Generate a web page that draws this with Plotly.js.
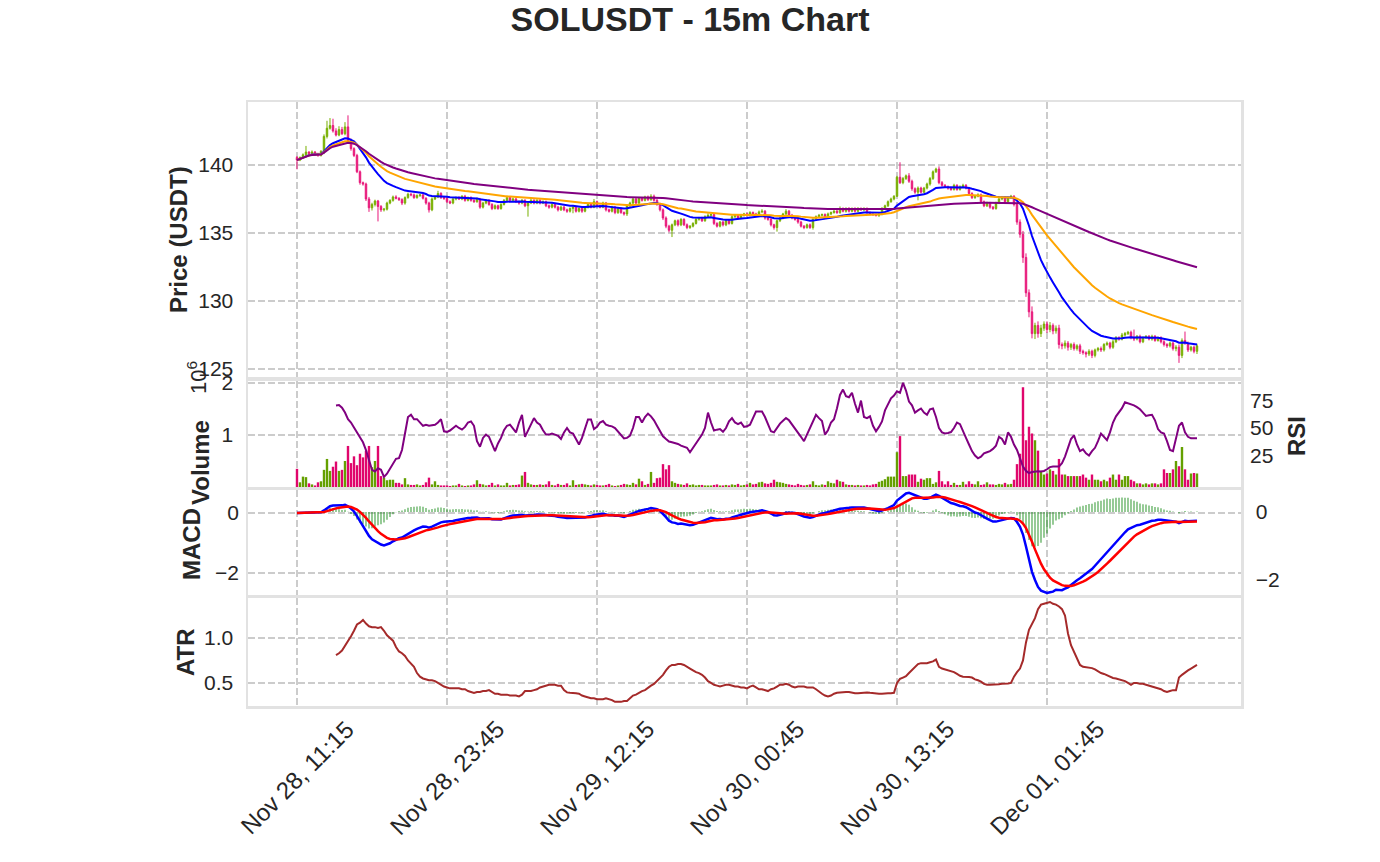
<!DOCTYPE html>
<html>
<head>
<meta charset="utf-8">
<script src="https://cdn.plot.ly/plotly-3.0.1.min.js"></script>
<style>html,body{margin:0;padding:0;background:#fff;}#chart{width:1380px;height:862px;}</style>
</head>
<body>
<div id="chart"></div>
<script>
// ---------- DATA ----------
const START_UTC = Date.UTC(2025, 10, 28, 11, 15);   // Nov 28, 11:15
const STEP_MS = 15 * 60 * 1000;                      // 15m candles
const FIRST_OPEN = 140.55;

const closes = [
140.36,140.55,140.75,140.95,140.85,140.95,140.80,140.70,141.00,142.10,
142.70,142.90,142.50,142.20,142.60,142.30,142.80,141.80,141.20,140.70,
139.50,138.70,138.60,137.50,136.85,137.10,137.35,136.95,136.70,136.75,
137.20,137.40,137.65,137.55,137.45,137.20,137.60,137.85,137.80,137.60,
137.75,137.80,137.55,137.20,136.70,137.50,137.65,137.90,137.60,137.55,
137.30,137.20,137.50,137.60,137.50,137.70,137.40,137.60,137.40,137.30,
137.50,136.90,137.20,137.40,137.10,136.80,137.00,136.80,137.10,137.40,
137.60,137.40,137.50,137.30,137.20,137.40,137.00,137.20,137.40,137.20,
137.40,137.20,137.30,137.00,136.90,137.10,136.90,136.70,136.90,136.70,
136.60,136.80,136.90,136.60,136.80,136.60,136.90,137.10,136.90,137.30,
137.00,136.90,137.20,136.70,136.60,136.90,136.50,136.80,136.50,136.40,
137.00,137.20,137.50,137.20,137.55,137.40,137.65,137.45,137.70,137.40,
137.10,136.70,136.10,135.50,135.20,135.60,135.90,135.60,136.00,135.60,
135.40,135.50,135.70,136.00,136.10,135.90,136.20,136.30,136.35,135.70,
135.50,135.80,135.60,135.90,135.70,136.20,136.30,136.10,136.30,136.40,
136.30,136.50,136.40,136.30,136.55,136.60,136.10,136.00,135.60,135.40,
135.90,136.10,136.40,136.60,136.30,136.10,136.00,135.80,135.50,135.40,
135.60,135.40,136.00,136.20,136.30,136.35,136.20,136.40,136.50,136.60,
136.50,136.80,136.60,136.80,136.60,136.80,136.60,136.80,136.70,136.80,
136.50,136.40,136.35,136.30,136.40,136.80,137.00,137.30,137.50,137.70,
139.10,138.70,139.00,139.20,138.80,138.25,138.00,138.30,138.00,138.30,
138.60,139.00,139.50,139.70,138.70,138.50,138.40,138.30,138.20,138.50,
138.20,138.40,138.50,138.30,137.90,137.60,137.70,137.80,137.30,137.00,
137.20,136.90,136.80,137.20,137.50,137.60,137.30,137.60,137.70,137.10,
135.80,134.90,133.20,130.60,129.20,127.60,128.20,127.60,128.00,128.30,
127.90,128.20,127.80,128.00,126.80,126.70,126.90,126.60,126.80,126.50,
126.70,126.30,126.20,126.10,126.30,126.00,126.40,126.50,126.40,126.80,
126.90,126.60,127.00,127.30,127.20,127.50,127.60,127.70,127.30,127.20,
127.40,127.00,127.30,127.40,127.20,127.40,127.10,127.30,127.00,126.80,
126.70,126.90,126.50,126.60,126.00,127.10,126.90,126.40,126.60,126.30,
126.70
];

// upper / lower wick lengths in hundredths of a USDT
const upperWick = [
11,8,10,45,6,12,8,10,9,15, 55,55,50,20,25,20,35,85,15,10,
12,10,8,10,15,12,10,8,10,9, 10,8,10,12,8,10,9,12,8,10,
9,8,10,8,10,12,8,20,10,8, 8,10,9,8,10,8,10,8,9,8,
10,8,9,10,8,9,10,8,9,10, 15,8,10,8,9,10,8,9,10,8,
9,8,10,8,9,10,8,9,10,8, 9,8,10,8,9,10,8,9,10,20,
8,9,10,8,9,10,8,9,10,8, 9,10,8,9,10,8,9,10,15,12,
10,12,10,12,10,9,8,10,9,8, 10,8,9,10,8,9,10,15,8,10,
9,8,10,8,9,10,8,9,10,8, 9,10,8,9,10,15,8,9,10,8,
9,10,8,15,9,10,8,9,10,8, 9,10,8,9,10,8,9,10,8,9,
10,15,8,9,10,8,9,10,8,9, 8,9,10,8,9,10,8,9,10,8,
10,110,12,10,20,12,10,12,10,9, 10,12,10,10,20,12,10,9,10,12,
9,10,12,10,9,10,8,12,10,9, 10,9,8,10,9,12,10,9,10,8,
15,20,25,30,25,40,20,30,25,20, 20,25,15,20,25,15,20,15,12,15,
12,15,12,10,15,12,10,12,15,10, 12,10,15,12,10,15,12,10,12,60,
10,12,10,9,10,12,10,9,10,12, 10,12,10,15,20,15,65,12,10,12,
15
];
const lowerWick = [
68,8,10,9,10,8,12,10,8,20, 15,10,12,10,9,10,12,20,15,12,
10,15,12,15,30,20,15,110,15,12, 10,9,10,8,10,15,12,8,10,9,
8,10,9,12,20,10,8,9,10,12, 10,8,9,10,8,9,10,8,10,9,
8,12,10,9,10,12,8,10,9,8, 10,8,9,10,12,9,10,80,8,10,
9,10,8,10,12,9,10,12,8,10, 12,10,35,10,9,12,8,10,9,8,
10,9,8,12,10,9,12,10,9,12, 15,10,9,8,10,9,8,10,9,10,
10,12,15,15,15,50,10,12,10,9, 12,10,9,8,10,9,8,10,9,12,
10,9,12,10,9,8,10,9,8,10, 9,8,10,9,8,10,12,10,12,15,
30,10,9,8,10,9,10,12,10,12, 9,10,15,8,10,9,8,10,9,8,
10,9,8,10,9,8,10,9,8,10, 9,10,8,9,12,10,8,9,8,10,
5,10,12,10,12,15,12,60,10,9, 10,12,10,9,12,10,9,12,10,9,
10,9,8,10,12,10,9,8,12,10, 9,12,10,9,8,10,12,9,8,15,
20,25,40,30,40,35,40,30,25,20, 25,20,25,20,30,25,20,25,20,15,
15,20,15,25,15,20,15,12,15,12, 10,15,12,10,12,10,12,10,12,15,
10,12,10,9,10,12,10,9,12,15, 15,12,15,20,55,20,12,15,12,15,
20
];

// volume in millions
const volumeM = [
0.35,0.09,0.20,0.19,0.07,0.05,0.03,0.09,0.11,0.33,
0.54,0.31,0.39,0.49,0.31,0.33,0.50,0.79,0.46,0.59,
0.42,0.64,0.57,0.70,0.79,0.38,0.50,0.79,0.21,0.18,
0.13,0.14,0.14,0.08,0.08,0.05,0.17,0.05,0.04,0.04,
0.05,0.03,0.04,0.09,0.18,0.05,0.11,0.04,0.03,0.03,
0.03,0.02,0.03,0.03,0.06,0.03,0.02,0.03,0.03,0.05,
0.13,0.06,0.05,0.03,0.04,0.08,0.03,0.05,0.03,0.03,
0.08,0.03,0.04,0.04,0.05,0.22,0.29,0.08,0.05,0.04,
0.04,0.05,0.04,0.05,0.11,0.04,0.03,0.06,0.04,0.04,
0.07,0.03,0.13,0.04,0.05,0.06,0.05,0.04,0.03,0.05,
0.04,0.03,0.03,0.04,0.06,0.03,0.02,0.03,0.04,0.06,
0.05,0.04,0.08,0.05,0.16,0.11,0.04,0.06,0.29,0.08,
0.17,0.18,0.44,0.34,0.42,0.11,0.08,0.06,0.05,0.04,
0.07,0.04,0.05,0.03,0.04,0.04,0.03,0.03,0.03,0.04,
0.05,0.03,0.03,0.04,0.03,0.05,0.04,0.06,0.03,0.04,
0.05,0.08,0.05,0.06,0.09,0.10,0.07,0.06,0.08,0.14,
0.10,0.09,0.08,0.06,0.05,0.04,0.03,0.06,0.04,0.03,
0.04,0.05,0.11,0.04,0.03,0.05,0.04,0.11,0.08,0.07,
0.14,0.11,0.10,0.05,0.04,0.04,0.03,0.04,0.03,0.03,
0.04,0.03,0.05,0.06,0.10,0.12,0.15,0.20,0.20,0.20,
0.67,0.98,0.21,0.21,0.24,0.24,0.24,0.10,0.16,0.14,
0.17,0.17,0.06,0.09,0.31,0.11,0.05,0.11,0.04,0.08,
0.04,0.04,0.10,0.05,0.11,0.06,0.05,0.11,0.04,0.05,
0.09,0.05,0.05,0.04,0.06,0.05,0.08,0.05,0.06,0.14,
0.44,0.64,1.92,0.90,1.16,1.03,0.90,0.70,0.31,0.24,
0.26,0.34,0.31,0.24,0.54,0.24,0.24,0.21,0.21,0.21,
0.21,0.21,0.24,0.18,0.14,0.24,0.14,0.14,0.11,0.14,
0.11,0.18,0.24,0.14,0.24,0.14,0.21,0.21,0.14,0.11,
0.07,0.07,0.05,0.07,0.05,0.07,0.07,0.05,0.07,0.34,
0.27,0.27,0.34,0.50,0.40,0.77,0.34,0.14,0.26,0.27,
0.26
];

// RSI from bar 13 to bar 300
const RSI_START = 13;
const rsiValues = [
70.5,70.8,68.5,64,58,55,50.5,46,42,37,
30,20,12,10.5,13.5,12,5.5,8.5,13,17,
22,22.6,30,45,60,62,58,58,55,52,
53,52,52.5,53,55,58,47,46.5,47.7,50,
52,50,48.5,51,55,56,52,38,33,41,
44,42,36,29,36,41,48,52,53,49,
46,55,62,42,48,54,59,55,53,48,
44,44,45,44,43,40,46,50,46,45,
40,35,41,50,57.7,57.7,49,51,55,56.3,
53,52,51.5,50,47,44,40.5,41,43,50,
60,60,55,60,63,60.6,57,52,47.5,42.5,
40,37.7,37,36.3,35.5,34,33,32,28,32,
37,40,44,50,64,55,47.7,48.5,49,46.5,
50,56,59,55,53.5,55,51,51.5,53,59,
65,65,65,60,53,47,46,50,54,56.5,
59,57,53.5,50,46,42,38,44,50,57,
62,59,56.3,44,48,55,58,68,80,84.9,
79,78,82,72,64,74.9,60,59,60.6,52,
47,51,56,66,72,77,79.5,83.4,82,91,
84,74,70.6,64,66,67.7,64,62,67,67.7,
60,50,46,45,45.5,46.3,50,55,53.5,48,
41,35,29,25,22.5,24,27,28,29,31,
34,42,40,35,46,42,35,30,22,15,
11,9.1,10,10.6,10.6,10.5,11,12.5,14.5,15,
15,15,18,24,32,40,43.4,35,29,30.6,
27,25,29,32,38,45,42,39,46,55,
60.6,64,68,73.4,72.5,71.5,70.6,69,67,64,
61,61.5,62,57,49,46,45,38,30,29,
40,52,55,46,42,40.6,40.6,40.6
];

// ATR from bar 13 to bar 300
const ATR_START = 13;
const atrValues = [
0.81,0.83,0.86,0.91,0.97,1.02,1.08,1.15,1.17,1.20,
1.16,1.13,1.12,1.12,1.11,1.12,1.08,1.03,1.00,0.97,
0.90,0.85,0.83,0.80,0.75,0.72,0.68,0.61,0.57,0.55,
0.54,0.53,0.53,0.52,0.50,0.48,0.46,0.45,0.44,0.44,
0.44,0.44,0.43,0.43,0.41,0.40,0.39,0.40,0.40,0.41,
0.41,0.42,0.40,0.38,0.38,0.37,0.37,0.37,0.36,0.36,
0.36,0.35,0.37,0.41,0.41,0.41,0.42,0.43,0.45,0.46,
0.47,0.48,0.48,0.48,0.47,0.47,0.42,0.395,0.39,0.39,
0.385,0.38,0.36,0.35,0.34,0.33,0.33,0.32,0.32,0.32,
0.33,0.32,0.31,0.29,0.29,0.29,0.30,0.30,0.33,0.36,
0.37,0.39,0.41,0.42,0.45,0.47,0.49,0.52,0.56,0.59,
0.64,0.68,0.70,0.70,0.71,0.71,0.70,0.675,0.66,0.64,
0.62,0.61,0.59,0.56,0.52,0.50,0.48,0.47,0.46,0.47,
0.48,0.48,0.47,0.46,0.46,0.45,0.45,0.44,0.46,0.47,
0.45,0.43,0.43,0.42,0.41,0.43,0.44,0.46,0.48,0.48,
0.49,0.48,0.46,0.45,0.46,0.46,0.46,0.45,0.45,0.45,
0.43,0.40,0.38,0.36,0.35,0.36,0.38,0.39,0.395,0.40,
0.40,0.40,0.39,0.385,0.385,0.39,0.395,0.395,0.39,0.385,
0.38,0.38,0.38,0.385,0.385,0.385,0.39,0.50,0.545,0.56,
0.575,0.61,0.645,0.68,0.71,0.72,0.72,0.72,0.73,0.74,
0.76,0.68,0.66,0.65,0.64,0.63,0.62,0.60,0.58,0.57,
0.57,0.565,0.56,0.54,0.53,0.515,0.49,0.48,0.48,0.48,
0.48,0.485,0.49,0.49,0.495,0.50,0.57,0.62,0.66,0.75,
0.95,1.09,1.15,1.22,1.32,1.37,1.38,1.39,1.40,1.38,
1.37,1.35,1.32,1.25,1.05,0.92,0.85,0.78,0.70,0.68,
0.675,0.67,0.665,0.65,0.63,0.61,0.60,0.585,0.57,0.555,
0.55,0.54,0.53,0.52,0.50,0.48,0.50,0.50,0.49,0.49,
0.48,0.47,0.46,0.45,0.44,0.43,0.41,0.40,0.41,0.42,
0.42,0.56,0.59,0.62,0.64,0.66,0.68,0.70
];

const tickBars = [0, 50, 100, 150, 200, 250];
const tickLabels = ['Nov 28, 11:15', 'Nov 28, 23:45', 'Nov 29, 12:15', 'Nov 30, 00:45', 'Nov 30, 13:15', 'Dec 01, 01:45'];
const emaSpans = [20, 50, 200];

// ---------- DERIVED ----------
const times = closes.map((_, i) => START_UTC + i * STEP_MS);
const opens = closes.map((c, i) => i === 0 ? FIRST_OPEN : closes[i - 1]);
const highs = closes.map((c, i) => Math.max(opens[i], c) + upperWick[i] / 100);
const lows  = closes.map((c, i) => Math.min(opens[i], c) - lowerWick[i] / 100);

function ema(arr, span) {
  const w = 1 - 2 / (span + 1);
  let num = 0, den = 0;
  return arr.map(v => { num = v + w * num; den = 1 + w * den; return num / den; });
}
const emaFast = ema(closes, emaSpans[0]);
const emaMid = ema(closes, emaSpans[1]);
const emaSlow = ema(closes, emaSpans[2]);
const e12 = ema(closes, 12), e26 = ema(closes, 26);
const macd = e12.map((v, i) => v - e26[i]);
const signal = ema(macd, 9);
const hist = macd.map((v, i) => v - signal[i]);

const GREEN_C = '#78b000', MAG_C = '#e8187a';
const GREEN_V = '#64a000', MAG_V = '#e0066c';
const volColors = closes.map((c, i) => c >= opens[i] ? GREEN_V : MAG_V);

// ---------- LAYOUT ----------
const W = 1380, H = 862;
const FONT = 'Liberation Sans, Arial, Helvetica, sans-serif';
const TXT = '#262626';
const px2x = p => p / W, px2y = p => 1 - p / H;
const xDom = [px2x(248), px2x(1241)];
const xRange = [START_UTC - 16.33 * STEP_MS, START_UTC + 314.67 * STEP_MS];
const tickTimes = tickBars.map(b => times[b]);

const GRIDC = '#cccccc', DASH = '7px,3px';
const frame = {showline: true, linecolor: '#e2e2e2', linewidth: 2.5, mirror: true, zeroline: false, ticks: ''};
const grid = {showgrid: true, gridcolor: GRIDC, griddash: DASH, gridwidth: 1.2};
const tickFont = {family: FONT, size: 21, color: TXT};

function xAxis(anchor, extra) {
  return Object.assign({type: 'date', domain: xDom, range: xRange, anchor: anchor,
    tickmode: 'array', tickvals: tickTimes, showticklabels: false}, frame, grid, extra || {});
}
function yAxis(dom, range, vals, text, extra) {
  return Object.assign({domain: [px2y(dom[1]), px2y(dom[0])], range: range, tickmode: 'array',
    tickvals: vals, ticktext: text, tickfont: tickFont, ticklabelstandoff: 8}, frame, grid, extra || {});
}

const traces = [
  {type: 'candlestick', x: times, open: opens, high: highs, low: lows, close: closes,
   xaxis: 'x', yaxis: 'y', hoverinfo: 'skip',
   increasing: {line: {color: GREEN_C, width: 1}, fillcolor: GREEN_C},
   decreasing: {line: {color: MAG_C, width: 1}, fillcolor: MAG_C}},
  {type: 'scatter', mode: 'lines', x: times, y: emaFast, xaxis: 'x', yaxis: 'y', line: {color: '#0000ff', width: 2}},
  {type: 'scatter', mode: 'lines', x: times, y: emaMid, xaxis: 'x', yaxis: 'y', line: {color: '#ffa500', width: 2}},
  {type: 'scatter', mode: 'lines', x: times, y: emaSlow, xaxis: 'x', yaxis: 'y', line: {color: '#800080', width: 2}},
  {type: 'bar', x: times, y: volumeM, width: STEP_MS * 0.8, marker: {color: volColors, line: {width: 0}},
   xaxis: 'x2', yaxis: 'y2'},
  {type: 'scatter', mode: 'lines', x: times.slice(RSI_START), y: rsiValues, xaxis: 'x2', yaxis: 'y5',
   line: {color: '#800080', width: 2}},
  {type: 'bar', x: times, y: hist, width: STEP_MS * 0.55, marker: {color: 'rgba(0,128,0,0.5)', line: {width: 0}},
   xaxis: 'x3', yaxis: 'y3'},
  {type: 'scatter', mode: 'lines', x: times, y: macd, xaxis: 'x3', yaxis: 'y6', line: {color: '#0000ff', width: 2.5}},
  {type: 'scatter', mode: 'lines', x: times, y: signal, xaxis: 'x3', yaxis: 'y6', line: {color: '#ff0000', width: 2.5}},
  {type: 'scatter', mode: 'lines', x: times.slice(ATR_START), y: atrValues, xaxis: 'x4', yaxis: 'y4',
   line: {color: '#a52a2a', width: 2}}
];

const ann = [];
function yTitle(text, xp, yp, bold, size) {
  ann.push({text: bold ? '<b>' + text + '</b>' : text, xref: 'paper', yref: 'paper', x: px2x(xp), y: px2y(yp),
    textangle: -90, showarrow: false, xanchor: 'center', yanchor: 'middle',
    font: {family: FONT, size: size || 24, color: TXT}});
}
yTitle('Price (USDT)', 178, 240, true);
yTitle('Volume', 200, 463, true);
yTitle('10<sup>6</sup>', 197, 378, false, 22);
yTitle('MACD', 191, 544, true);
yTitle('ATR', 185, 652, true);
yTitle('RSI', 1296, 436, true);
tickLabels.forEach((t, i) => {
  ann.push({text: t, xref: 'x', yref: 'paper', x: tickTimes[i], y: px2y(777), textangle: -45,
    showarrow: false, xanchor: 'center', yanchor: 'middle', font: {family: FONT, size: 24, color: TXT}});
});

const layout = {
  width: W, height: H, margin: {l: 0, r: 0, t: 0, b: 0}, paper_bgcolor: '#fff', plot_bgcolor: '#fff',
  showlegend: false, barmode: 'overlay', hovermode: false,
  title: {text: 'SOLUSDT - 15m Chart', x: 0.5, xanchor: 'center', y: px2y(19), yanchor: 'middle',
          font: {family: FONT, size: 34, color: TXT, weight: 'bold'}},
  xaxis: xAxis('y', {rangeslider: {visible: false}}),
  xaxis2: xAxis('y2', {matches: 'x'}),
  xaxis3: xAxis('y3', {matches: 'x'}),
  xaxis4: xAxis('y4', {matches: 'x'}),
  yaxis: yAxis([102, 377], [124.41, 144.63], [125, 130, 135, 140], ['125', '130', '135', '140'], {anchor: 'x'}),
  yaxis2: yAxis([381, 487], [0, 2.04], [1, 2], ['1', '2'], {anchor: 'x2'}),
  yaxis5: {overlaying: 'y2', anchor: 'x2', side: 'right', range: [-3.6, 92.7], tickmode: 'array',
           tickvals: [25, 50, 75], ticktext: ['25', '50', '75'], showgrid: false, zeroline: false, ticks: '',
           tickfont: tickFont, ticklabelstandoff: 8, showline: false},
  yaxis3: yAxis([490, 595], [-2.44, 0.65], [-2, 0], ['\u22122', '0'], {anchor: 'x3', side: 'right', showgrid: false}),
  yaxis6: {overlaying: 'y3', anchor: 'x3', side: 'left', range: [-2.733, 0.767], tickmode: 'array',
           tickvals: [-2, 0], ticktext: ['\u22122', '0'], showgrid: true, gridcolor: GRIDC, griddash: DASH,
           gridwidth: 1.2, zeroline: false, ticks: '', tickfont: tickFont, ticklabelstandoff: 8, showline: false},
  yaxis4: yAxis([598, 706], [0.244, 1.444], [0.5, 1.0], ['0.5', '1.0'], {anchor: 'x4'}),
  annotations: ann
};

Plotly.newPlot('chart', traces, layout, {staticPlot: true, displayModeBar: false});
</script>
</body>
</html>
